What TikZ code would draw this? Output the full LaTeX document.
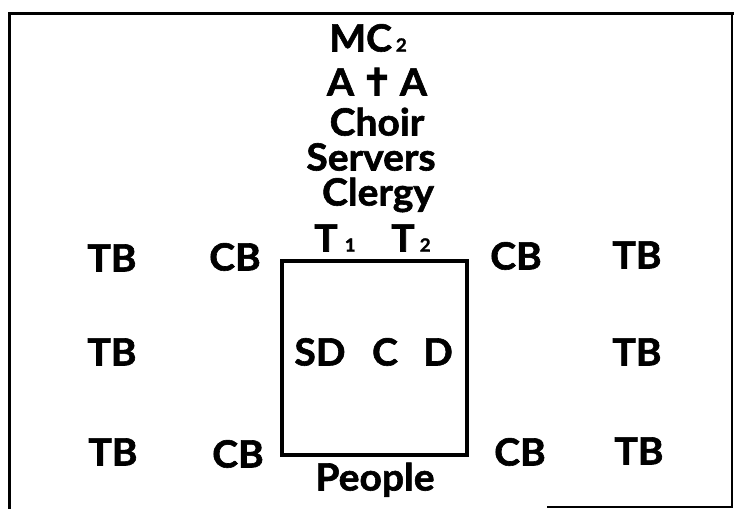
\documentclass[tikz,border=0pt]{standalone}
\usepackage{fontspec}
\setmainfont{Lato}[BoldFeatures={FakeBold=1.6, FakeStretch=1.04}]
\newfontfamily\crossfont{DejaVu Sans}[BoldFeatures={FakeBold=2.5}]
\begin{document}
\begin{tikzpicture}[x=1pt,y=-1pt,
  lbl/.style={font=\bfseries\fontsize{37.5}{37.5}\selectfont, inner sep=0pt, text height=27pt, text depth=0pt, anchor=center},
  frameline/.style={line width=3pt, line cap=rect},
  boxline/.style={line width=3.5pt, line join=miter}]
\newcommand{\smallsub}[2][3pt]{\hspace{#1}{\fontsize{18}{18}\selectfont #2}}
\useasboundingbox (0,0) rectangle (737,509);
% outer frame
\coordinate (ftl) at (9,13);
\coordinate (ftr) at (732,13);
\coordinate (fbl) at (9,508);
\coordinate (fbr) at (732,507);
\coordinate (fbm) at (547,507);
\draw[frameline] (fbl) -- (ftl) -- (ftr);
\draw[line width=1.6pt] (ftr) -- (fbr) -- (fbm);
% central square
\node[draw, boxline, minimum width=185pt, minimum height=194pt, inner sep=0pt] (sq) at (374.5,358) {};
% top column
\node[lbl] (mc) at (368,38) {MC\smallsub[4pt]{2}};
\node[lbl] (aa) at (377,82) {A\hspace{7pt}{\crossfont\bfseries\fontsize{38}{38}\selectfont ✝}\hspace{7pt}A};
\node[lbl] (choir) at (377,122) {Choir};
\node[lbl] (servers) at (371,157) {Servers};
\node[lbl] (clergy) at (378,192) {Clergy};
\node[lbl] (t1) at (335,238) {T\smallsub[7pt]{1}};
\node[lbl] (t2) at (411,238) {T\smallsub[5pt]{2}};
% side columns
\node[lbl] (tbl1) at (112,258) {TB};
\node[lbl] (tbl2) at (112,352) {TB};
\node[lbl] (tbl3) at (113,452) {TB};
\node[lbl] (cbl1) at (235,257) {CB};
\node[lbl] (cbl3) at (238,454) {CB};
\node[lbl] (cbr1) at (516,256) {CB};
\node[lbl] (cbr3) at (520,452) {CB};
\node[lbl] (tbr1) at (637,255) {TB};
\node[lbl] (tbr2) at (637,352) {TB};
\node[lbl] (tbr3) at (639,451) {TB};
% inside square
\node[lbl] (sd) at (320,352) {SD};
\node[lbl] (c) at (385,352) {C};
\node[lbl] (d) at (438,352) {D};
% bottom
\node[lbl] (people) at (375,477) {People};
\end{tikzpicture}
\end{document}
